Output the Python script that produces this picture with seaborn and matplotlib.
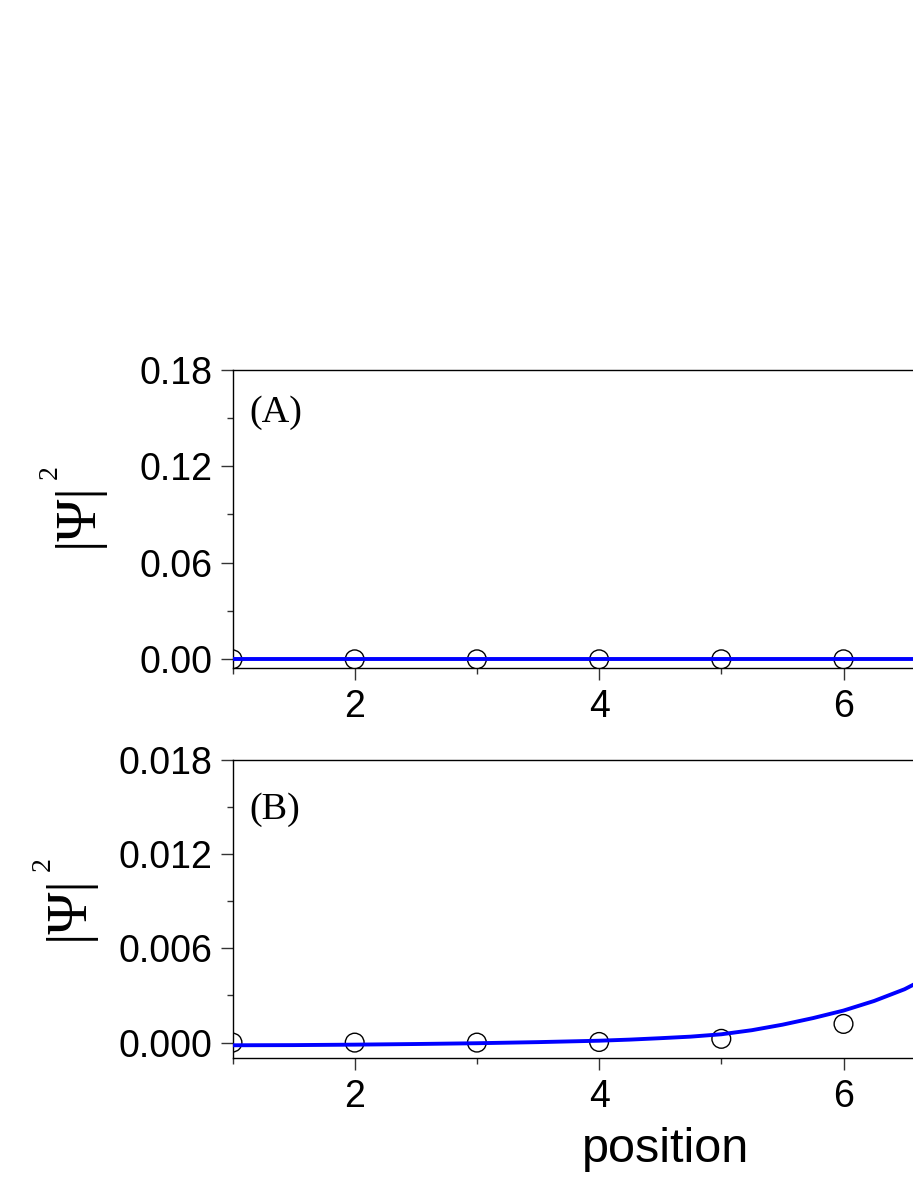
import matplotlib
matplotlib.use("Agg")
import matplotlib.pyplot as plt
import seaborn as sns
from matplotlib.ticker import MultipleLocator, FormatStrFormatter

# donnees
sites = [1, 2, 3, 4, 5, 6]
prob_a = [0.0, 0.0, 0.0, 0.0, 0.0, 0.0]
prob_b = [0.0, 0.0, 0.0, 0.00004, 0.00024, 0.00119]

curve_x = [1.0, 1.5, 2.0, 2.5, 3.0, 3.5, 4.0, 4.25, 4.5, 4.75,
           5.0, 5.25, 5.5, 5.75, 6.0, 6.25, 6.5, 6.6]
curve_a = [0.0, 0.0, 0.0, 0.0, 0.0, 0.0, 0.0, 0.0, 0.0,
           0.0, 0.0, 0.0, 0.0, 0.0, 0.0, 0.0, 0.0, 0.0]
curve_b = [-0.00017, -0.00016, -0.00013, -0.00009, -0.00004, 0.00003, 0.00012, 0.00019,
           0.00028, 0.00038, 0.00053, 0.00079, 0.00114, 0.00156, 0.00204, 0.00265,
           0.0034, 0.0038]

panel_labels = ["(A)", "(B)"]
y_ticks_a = [0.0, 0.18, 0.06, 0.03]   # min, max, pas majeur, pas mineur
y_ticks_b = [0.0, 0.018, 0.006, 0.003]
y_fmt = ["%.2f", "%.3f"]

sns.set_style("ticks")
plt.rcParams["font.family"] = ["Liberation Sans", "DejaVu Sans"]
plt.rcParams["text.color"] = "black"
plt.rcParams["axes.labelcolor"] = "black"
plt.rcParams["xtick.color"] = "black"
plt.rcParams["ytick.color"] = "black"

W, H = 913, 1182
fig = plt.figure(figsize=(W / 100, H / 100), dpi=100)

# les axes debordent a droite de l'image, comme sur l'original
px_unit = 122.2
x_lo, x_hi = 1, 7.5
ax_w = (x_hi - x_lo) * px_unit / W
ax_a = fig.add_axes([232.5 / W, (H - 667.7) / H, ax_w, 298.2 / H])
ax_b = fig.add_axes([232.5 / W, (H - 1058.3) / H, ax_w, 298.3 / H])

# (axe, points, courbe, graduations, bas, format, lettre, y lettre, position du label y)
panels = [
    (ax_a, prob_a, curve_a, y_ticks_a, -0.0052, y_fmt[0], panel_labels[0], 0.825, (92, 515, 57, 479)),
    (ax_b, prob_b, curve_b, y_ticks_b, -0.001, y_fmt[1], panel_labels[1], 0.802, (83, 908, 50, 871)),
]

for ax, pts, curve, yt, y_bottom, fmt, lab, lab_y, ylab in panels:
    sns.scatterplot(x=sites, y=pts, ax=ax, marker="o", s=13.5 ** 2,
                    facecolor="none", edgecolor="black", linewidth=1.0, zorder=2)
    sns.lineplot(x=curve_x, y=curve, ax=ax, color="#0000ff", linewidth=2.8, zorder=3)

    ax.set_xlim(x_lo, x_hi)
    ax.set_ylim(y_bottom, yt[1])
    ax.xaxis.set_major_locator(MultipleLocator(2))
    ax.xaxis.set_minor_locator(MultipleLocator(1))
    ax.yaxis.set_major_locator(MultipleLocator(yt[2]))
    ax.yaxis.set_minor_locator(MultipleLocator(yt[3]))
    ax.yaxis.set_major_formatter(FormatStrFormatter(fmt))
    ax.xaxis.set_major_formatter(FormatStrFormatter("%d"))

    ax.tick_params(which="major", length=8.6, width=1, labelsize=27,
                   color="#333333", labelcolor="black")
    ax.tick_params(which="minor", length=4.3, width=1, color="#333333")
    ax.tick_params(axis="y", which="major", pad=6)
    ax.tick_params(axis="x", which="major", pad=6.5)
    for sp in ax.spines.values():
        sp.set_linewidth(1.0)
        sp.set_color("black")

    ax.text(0.021, lab_y, lab, transform=ax.transAxes, fontsize=27.5,
            family="Liberation Serif", va="baseline", ha="left")

    # |Psi| puis l'exposant 2 plus petit, comme sur l'original
    ax.set_ylabel("|\u03a8|", fontsize=41, family="Liberation Serif",
                  va="baseline", ha="center")
    ax.yaxis.set_label_coords(ylab[0] / W, 1 - ylab[1] / H, transform=fig.transFigure)
    fig.text(ylab[2] / W, 1 - ylab[3] / H, "2", fontsize=20, family="Liberation Serif",
             rotation=90, rotation_mode="anchor", ha="left", va="baseline")

ax_b.set_xlabel("position", fontsize=35, va="baseline", ha="center")
ax_b.xaxis.set_label_coords(665.7 / W, 1 - 1161.7 / H, transform=fig.transFigure)

fig.savefig("out.png", dpi=100)
